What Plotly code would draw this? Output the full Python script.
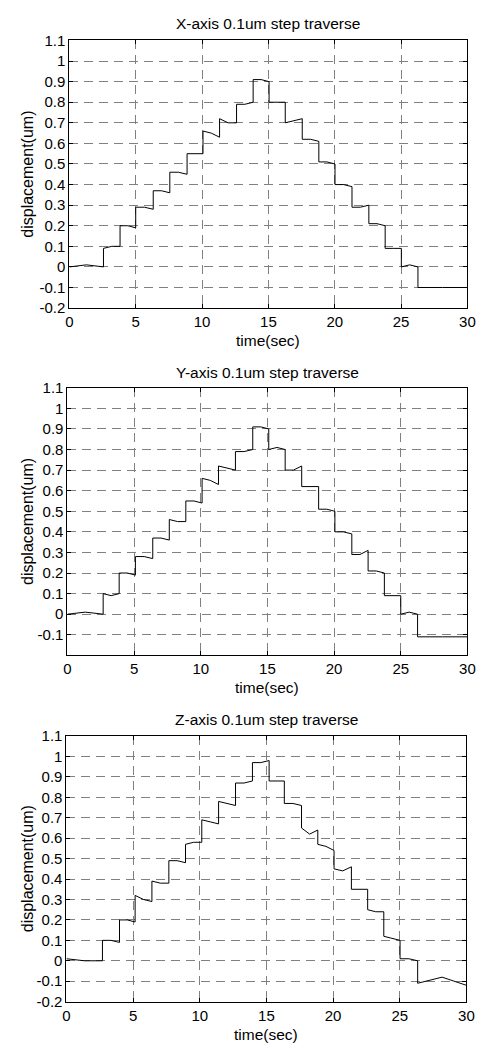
import plotly.graph_objects as go

# ---------------- data ----------------
time_ticks = [0, 5, 10, 15, 20, 25, 30]
disp_ticks_full = [-0.2, -0.1, 0, 0.1, 0.2, 0.3, 0.4, 0.5, 0.6, 0.7, 0.8, 0.9, 1.0, 1.1]
disp_ticks_y = [-0.1, 0, 0.1, 0.2, 0.3, 0.4, 0.5, 0.6, 0.7, 0.8, 0.9, 1.0, 1.1]

titles = ["X-axis 0.1um step traverse", "Y-axis 0.1um step traverse", "Z-axis 0.1um step traverse"]

# step edges (sec) and level at start / middle / end of each plateau (um)
x_edges = [0, 2.57, 3.82, 5.0, 6.32, 7.57, 8.87, 10.07, 11.32, 12.6, 13.85, 15.05,
           16.27, 17.55, 18.8, 20.02, 21.3, 22.57, 23.8, 25.02, 26.27, 30]
x_start = [0.0, 0.09, 0.20, 0.29, 0.37, 0.46, 0.55, 0.66, 0.72, 0.79, 0.91,
           0.80, 0.70, 0.62, 0.51, 0.40, 0.29, 0.21, 0.09, 0.0, -0.10]
x_mid = [0.01, 0.10, 0.20, 0.29, 0.37, 0.46, 0.55, 0.65, 0.70, 0.79, 0.91,
         0.80, 0.71, 0.62, 0.51, 0.40, 0.29, 0.21, 0.09, 0.01, -0.10]
x_end = [0.0, 0.10, 0.19, 0.28, 0.36, 0.45, 0.55, 0.63, 0.70, 0.80, 0.90,
         0.80, 0.72, 0.61, 0.50, 0.39, 0.30, 0.20, 0.09, 0.0, -0.10]

y_edges = [0, 2.68, 3.88, 5.1, 6.4, 7.64, 8.88, 10.1, 11.33, 12.6, 13.9, 15.1,
           16.33, 17.57, 18.84, 20.06, 21.33, 22.55, 23.77, 25.0, 26.26, 30]
y_start = [0.0, 0.10, 0.20, 0.28, 0.37, 0.46, 0.55, 0.66, 0.72, 0.79, 0.91,
           0.80, 0.70, 0.62, 0.51, 0.40, 0.29, 0.21, 0.09, 0.0, -0.11]
y_mid = [0.01, 0.09, 0.20, 0.28, 0.37, 0.45, 0.55, 0.65, 0.71, 0.79, 0.91,
         0.81, 0.70, 0.62, 0.51, 0.40, 0.29, 0.21, 0.09, 0.01, -0.11]
y_end = [0.0, 0.10, 0.19, 0.27, 0.36, 0.45, 0.54, 0.63, 0.70, 0.80, 0.90,
         0.80, 0.72, 0.62, 0.50, 0.39, 0.31, 0.20, 0.09, 0.0, -0.11]

z_edges = [0, 2.7, 3.98, 5.15, 6.41, 7.68, 8.93, 10.15, 11.41, 12.68, 13.95, 15.2,
           16.34, 17.63, 18.85, 20.07, 21.37, 22.59, 23.8, 25.02, 26.34, 30]
z_start = [0.01, 0.10, 0.20, 0.32, 0.39, 0.49, 0.57, 0.69, 0.78, 0.87, 0.97,
           0.88, 0.77, 0.65, 0.57, 0.45, 0.35, 0.25, 0.12, 0.01, -0.11]
z_mid = [0.0, 0.10, 0.20, 0.30, 0.38, 0.49, 0.58, 0.68, 0.77, 0.87, 0.97,
         0.88, 0.77, 0.62, 0.56, 0.44, 0.35, 0.24, 0.11, 0.01, -0.08]
z_end = [0.0, 0.09, 0.19, 0.29, 0.38, 0.48, 0.58, 0.67, 0.76, 0.88, 0.98,
         0.88, 0.76, 0.64, 0.54, 0.46, 0.35, 0.24, 0.10, 0.0, -0.12]


def build(edges, starts, mids, ends):
    t, d = [], []
    for i in range(len(starts)):
        t += [edges[i], (edges[i] + edges[i + 1]) / 2, edges[i + 1]]
        d += [starts[i], mids[i], ends[i]]
    return t, d


W, H = 493, 1050
# panel boxes in pixels: (left, right, top, bottom)
boxes = [(67, 475, 32, 304), (65, 475, 385, 657), (64, 474, 739, 1009)]
title_y = [15, 369, 722]
xlabel_y = [337, 690, 1042]

fig = go.Figure()
series = [build(x_edges, x_start, x_mid, x_end), build(y_edges, y_start, y_mid, y_end),
          build(z_edges, z_start, z_mid, z_end)]

FONT = "Liberation Sans, Arial, sans-serif"
layout = dict(width=W, height=H, margin=dict(l=0, r=0, t=0, b=0),
              paper_bgcolor="white", plot_bgcolor="white", showlegend=False,
              font=dict(family=FONT, size=15, color="black"))
annotations = []


def fmt(v):
    return "%g" % round(v, 2)


for k in range(3):
    l, r, tp, bt = boxes[k]
    xa = "xaxis" if k == 0 else "xaxis%d" % (k + 1)
    ya = "yaxis" if k == 0 else "yaxis%d" % (k + 1)
    xref = "x" if k == 0 else "x%d" % (k + 1)
    yref = "y" if k == 0 else "y%d" % (k + 1)
    t, d = series[k]
    fig.add_trace(go.Scatter(x=t, y=d, mode="lines", xaxis=xref, yaxis=yref,
                             line=dict(color="black", width=1)))
    yt = disp_ticks_y if k == 1 else disp_ticks_full
    layout[xa] = dict(domain=[l / W, r / W], anchor=yref, range=[0, 30],
                      tickvals=time_ticks, ticktext=[fmt(v) for v in time_ticks],
                      showline=True, mirror="ticks", linecolor="black", linewidth=1,
                      ticks="inside", ticklen=4, tickcolor="black",
                      showgrid=True, gridcolor="#808080", griddash="9px,6px", gridwidth=1,
                      zeroline=False, tickfont=dict(size=15))
    layout[ya] = dict(domain=[1 - bt / H, 1 - tp / H], anchor=xref, range=[-0.2, 1.1],
                      tickvals=yt, ticktext=[fmt(v) for v in yt],
                      showline=True, mirror="ticks", linecolor="black", linewidth=1,
                      ticks="inside", ticklen=4, tickcolor="black",
                      showgrid=True, gridcolor="#808080", griddash="9px,6px", gridwidth=1,
                      zeroline=False, tickfont=dict(size=15))
    cx = (l + r) / 2 / W
    annotations.append(dict(text=titles[k], x=cx, y=1 - title_y[k] / H, xref="paper", yref="paper",
                            showarrow=False, xanchor="center", yanchor="middle",
                            font=dict(size=15.5)))
    annotations.append(dict(text="time(sec)", x=cx, y=1 - xlabel_y[k] / H, xref="paper", yref="paper",
                            showarrow=False, xanchor="center", yanchor="middle",
                            font=dict(size=15.5)))
    annotations.append(dict(text="displacement(um)", x=24 / W, y=1 - (tp + bt) / 2 / H,
                            xref="paper", yref="paper", showarrow=False, textangle=-90,
                            xanchor="center", yanchor="middle", font=dict(size=16)))

layout["annotations"] = annotations
fig.update_layout(**layout)
fig.write_html("out.html")
